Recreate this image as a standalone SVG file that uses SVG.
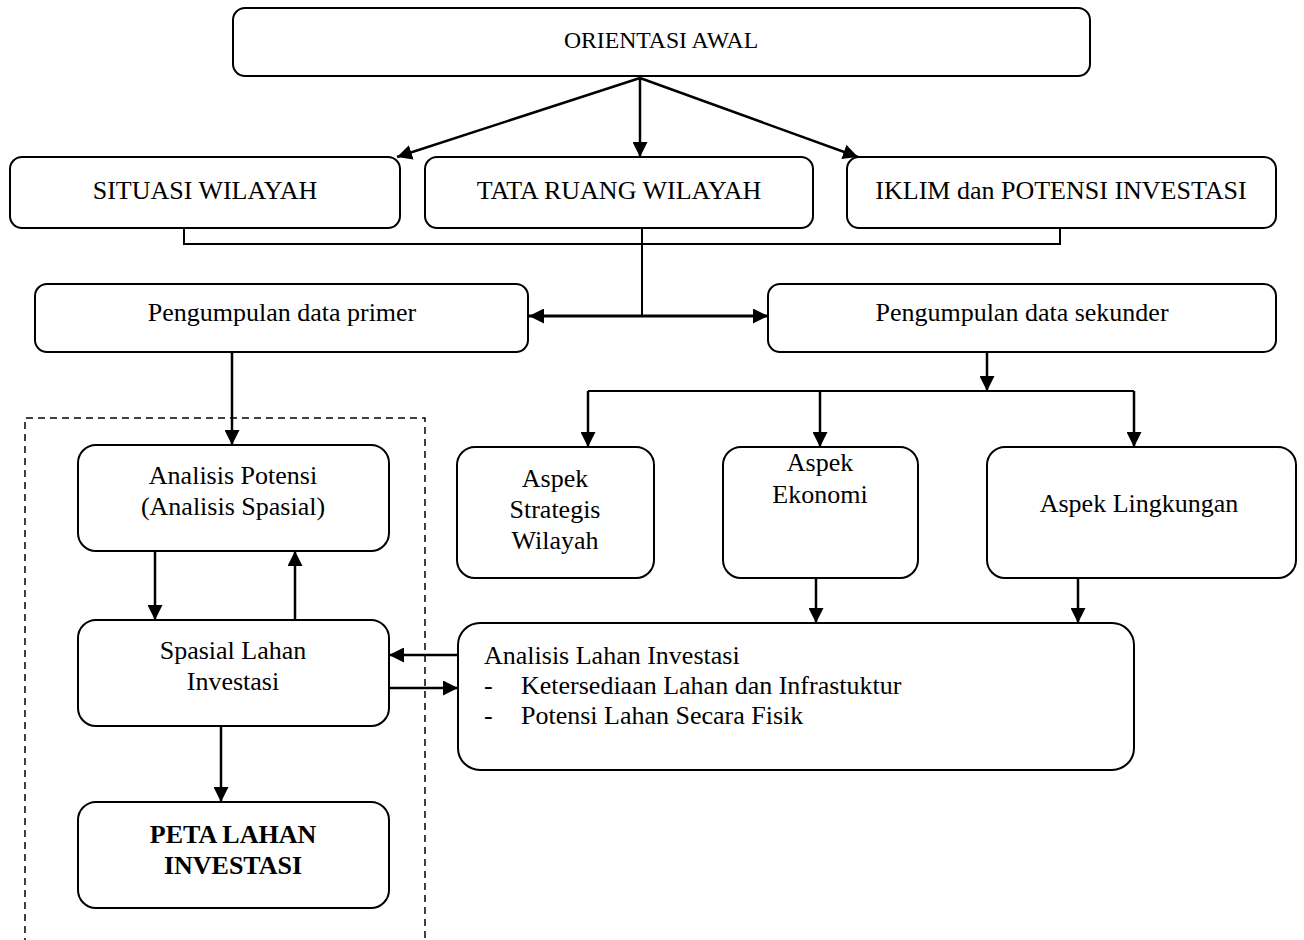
<svg xmlns="http://www.w3.org/2000/svg" width="1304" height="940" viewBox="0 0 1304 940">
<style>
.box{fill:#fff;stroke:#000;stroke-width:2}
.t{font-family:"Liberation Serif","Times New Roman",serif;font-size:26px;fill:#000}
.c{text-anchor:middle}
.b{font-weight:bold}
.ln{fill:none;stroke:#000;stroke-width:2}
.ar{fill:none;stroke:#000;stroke-width:2.5;marker-end:url(#ah)}
</style>
<defs>
<marker id="ah" markerUnits="userSpaceOnUse" markerWidth="15" markerHeight="15" refX="14" refY="7" orient="auto-start-reverse" viewBox="0 0 14 14">
<path d="M0,0 L14,7 L0,14 z" fill="#000"/>
</marker>
</defs>
<rect width="1304" height="940" fill="#fff"/>
<g id="dashed-frame">
<path d="M25,945 V418 H425 V945" fill="none" stroke="#000" stroke-width="1.5" stroke-dasharray="7,5"/>
</g>
<g id="connectors">
<path class="ar" d="M640,78 L397,157"/>
<path class="ar" d="M640,78 L640,157"/>
<path class="ar" d="M640,78 L858,157"/>
<path class="ln" d="M184,229 V244 H1060 V229"/>
<path class="ln" d="M642,229 V316"/>
<path d="M529,316 H768" fill="none" stroke="#000" stroke-width="3" marker-start="url(#ah)" marker-end="url(#ah)"/>
<path class="ar" d="M987,353 V391"/>
<path class="ln" d="M588,391 H1134"/>
<path class="ar" d="M588,391 V447"/>
<path class="ar" d="M820,391 V447"/>
<path class="ar" d="M1134,391 V447"/>
<path class="ar" d="M816,578 V623"/>
<path class="ar" d="M1078,578 V623"/>
<path class="ar" d="M232,353 V445"/>
<path class="ar" d="M155,551 V620"/>
<path class="ar" d="M295,620 V551"/>
<path class="ar" d="M458,655 H389"/>
<path class="ar" d="M389,688 H458"/>
<path class="ar" d="M221,726 V802"/>
</g>
<g id="orientasi-awal">
<rect class="box" x="233" y="8" width="857" height="68" rx="12"/>
<text class="t c" x="661" y="48" style="font-size:23.7px">ORIENTASI AWAL</text>
</g>
<g id="situasi-wilayah">
<rect class="box" x="10" y="157" width="390" height="71" rx="12"/>
<text class="t c" x="205" y="199">SITUASI WILAYAH</text>
</g>
<g id="tata-ruang-wilayah">
<rect class="box" x="425" y="157" width="388" height="71" rx="12"/>
<text class="t c" x="619" y="199">TATA RUANG WILAYAH</text>
</g>
<g id="iklim-potensi">
<rect class="box" x="847" y="157" width="429" height="71" rx="12"/>
<text class="t c" x="1061" y="199">IKLIM dan POTENSI INVESTASI</text>
</g>
<g id="data-primer">
<rect class="box" x="35" y="284" width="493" height="68" rx="12"/>
<text class="t c" x="282" y="321">Pengumpulan data primer</text>
</g>
<g id="data-sekunder">
<rect class="box" x="768" y="284" width="508" height="68" rx="12"/>
<text class="t c" x="1022" y="321">Pengumpulan data sekunder</text>
</g>
<g id="aspek-strategis">
<rect class="box" x="457" y="447" width="197" height="131" rx="18"/>
<text class="t c" x="555" y="487">Aspek</text>
<text class="t c" x="555" y="518">Strategis</text>
<text class="t c" x="555" y="549">Wilayah</text>
</g>
<g id="aspek-ekonomi">
<rect class="box" x="723" y="447" width="195" height="131" rx="18"/>
<text class="t c" x="820" y="471">Aspek</text>
<text class="t c" x="820" y="503">Ekonomi</text>
</g>
<g id="aspek-lingkungan">
<rect class="box" x="987" y="447" width="309" height="131" rx="18"/>
<text class="t c" x="1139" y="512">Aspek Lingkungan</text>
</g>
<g id="analisis-lahan">
<rect class="box" x="458" y="623" width="676" height="147" rx="22"/>
<text class="t" x="484" y="664">Analisis Lahan Investasi</text>
<text class="t" x="484" y="694">-</text>
<text class="t" x="521" y="694">Ketersediaan Lahan dan Infrastuktur</text>
<text class="t" x="484" y="724">-</text>
<text class="t" x="521" y="724">Potensi Lahan Secara Fisik</text>
</g>
<g id="analisis-potensi">
<rect class="box" x="78" y="445" width="311" height="106" rx="18"/>
<text class="t c" x="233" y="484">Analisis Potensi</text>
<text class="t c" x="233" y="515">(Analisis Spasial)</text>
</g>
<g id="spasial-lahan">
<rect class="box" x="78" y="620" width="311" height="106" rx="18"/>
<text class="t c" x="233" y="659">Spasial Lahan</text>
<text class="t c" x="233" y="690">Investasi</text>
</g>
<g id="peta-lahan">
<rect class="box" x="78" y="802" width="311" height="106" rx="18"/>
<text class="t c b" x="233" y="843">PETA LAHAN</text>
<text class="t c b" x="233" y="874">INVESTASI</text>
</g>
</svg>
